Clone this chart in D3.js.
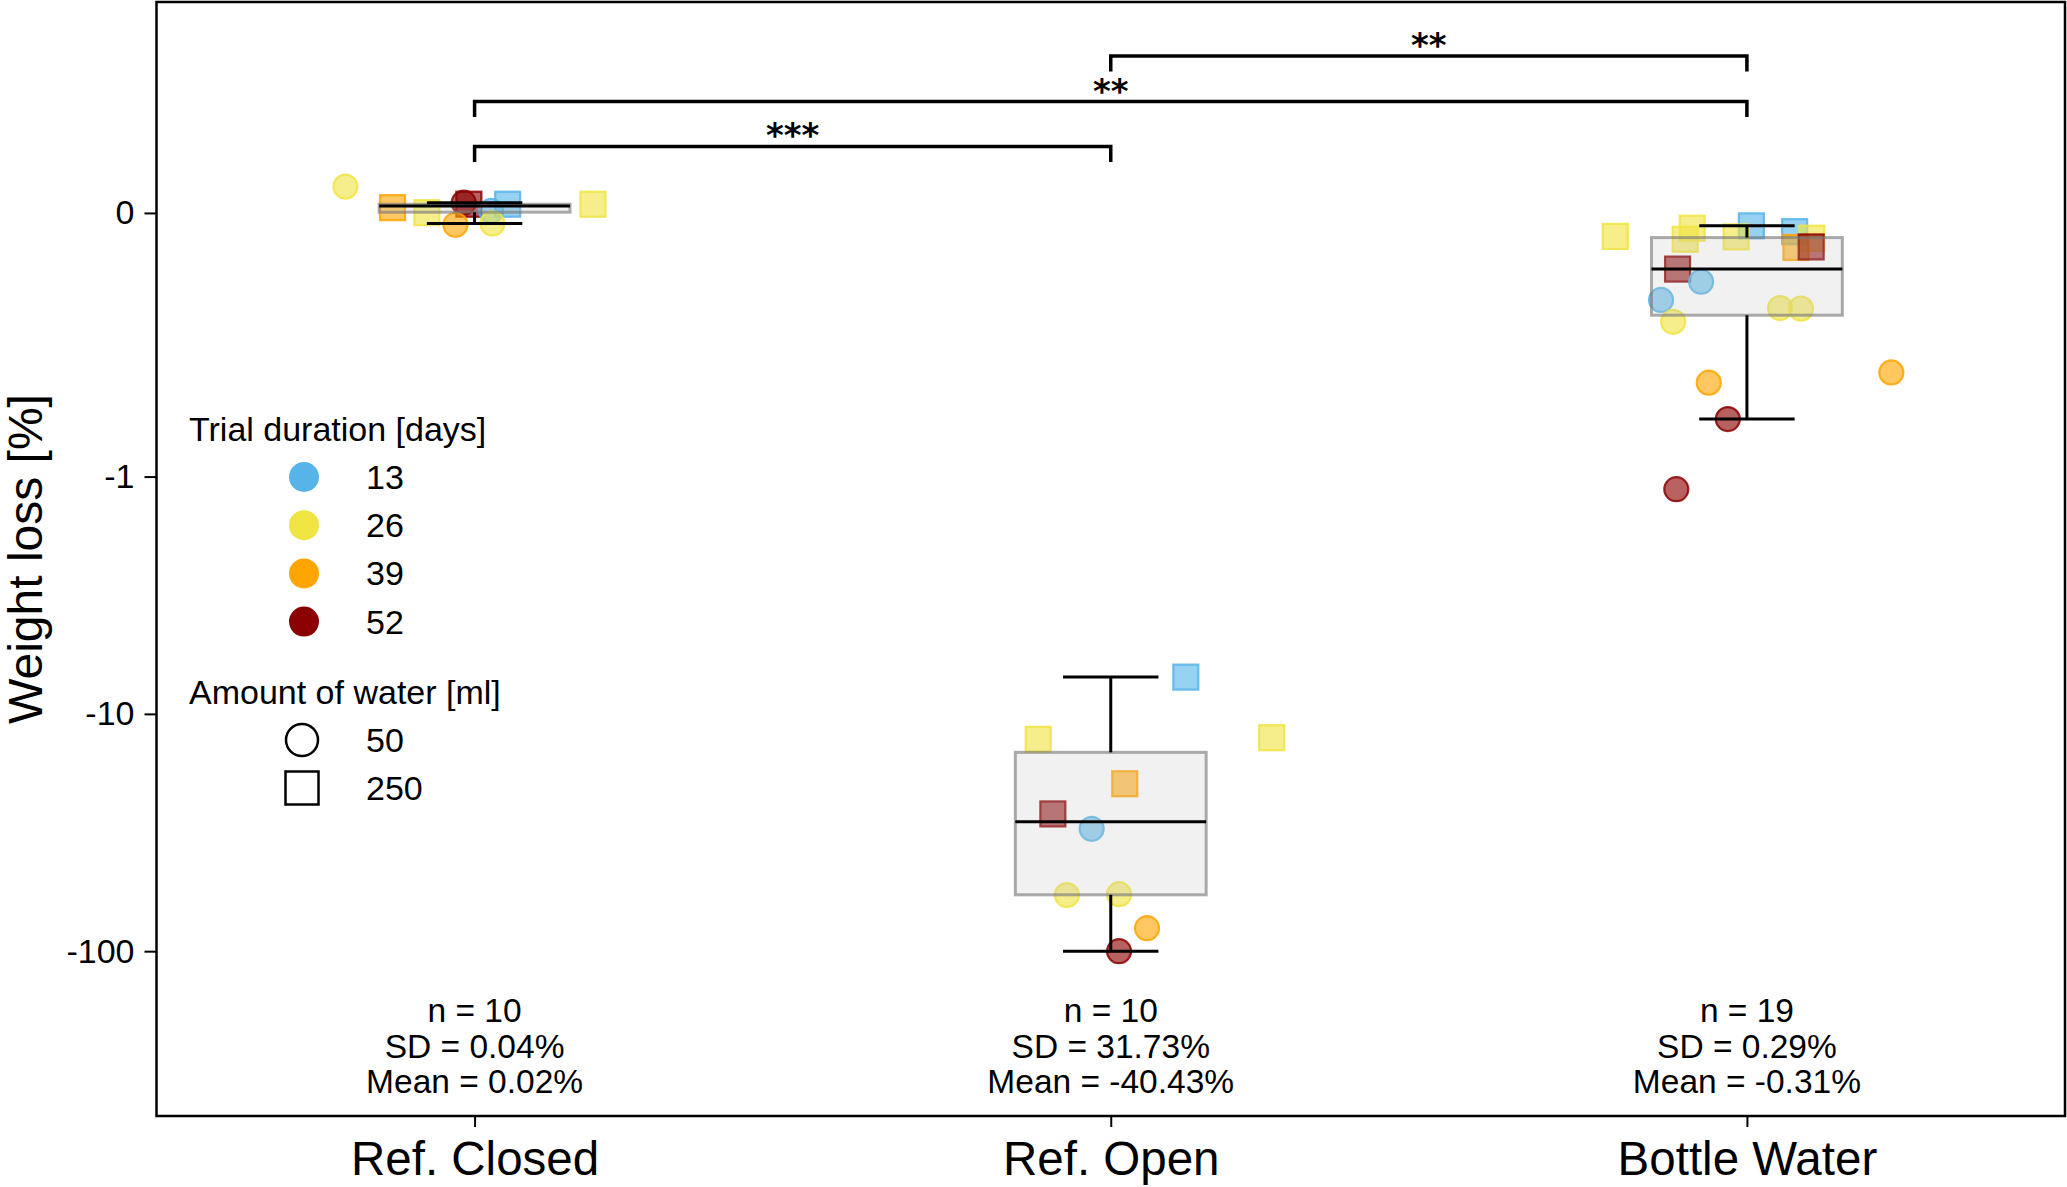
<!DOCTYPE html>
<html>
<head>
<meta charset="utf-8">
<script src="https://cdn.jsdelivr.net/npm/d3@7"></script>
<style>
  body { margin: 0; background: #fff; }
  text { font-family: "Liberation Sans", Arial, sans-serif; fill: #000; }
</style>
</head>
<body>
<svg id="chart" width="2067" height="1187"></svg>
<script>
// groups on the x axis
const categories = ["Ref. Closed", "Ref. Open", "Bottle Water"];

// weight loss [%] per sample, trial duration [days], water [ml], strip jitter (category units)
const closedValues   = [0.10, 0.020, 0.001, 0.039, 0.033, 0.008, 0.033, -0.045, -0.040, 0.033];
const closedDuration = [26, 39, 26, 52, 52, 13, 13, 39, 26, 26];
const closedWater    = [50, 250, 250, 50, 250, 50, 250, 50, 50, 250];
const closedJitter   = [-0.203, -0.129, -0.075, -0.017, -0.009, 0.026, 0.052, -0.030, 0.028, 0.186];

const openValues   = [-7.0, -12.8, -12.6, -19.7, -26.4, -30.5, -58, -57.5, -80, -100];
const openDuration = [13, 26, 26, 39, 52, 13, 26, 26, 39, 52];
const openWater    = [250, 250, 250, 250, 250, 50, 50, 50, 50, 50];
const openJitter   = [0.118, -0.114, 0.253, 0.022, -0.091, -0.030, -0.069, 0.013, 0.057, 0.013];

const bottleValues   = [-0.089, -0.058, -0.100, -0.049, -0.091, -0.071, -0.096, -0.131, -0.129, -0.213,
                        -0.261, -0.330, -0.413, -0.361, -0.363, -0.644, -0.605, -0.782, -1.13];
const bottleDuration = [26, 26, 26, 13, 26, 13, 26, 39, 52, 52, 13, 13, 26, 26, 26, 39, 39, 52, 52];
const bottleWater    = [250, 250, 250, 250, 250, 250, 250, 250, 250, 250, 50, 50, 50, 50, 50, 50, 50, 50, 50];
const bottleJitter   = [-0.207, -0.086, -0.097, 0.007, -0.017, 0.075, 0.102, 0.077, 0.101, -0.109,
                        -0.072, -0.135, -0.116, 0.052, 0.085, -0.060, 0.227, -0.030, -0.111];

// reported statistics under each group
const sdValues   = [0.04, 31.73, 0.29];
const meanValues = [0.02, -40.43, -0.31];

// significance brackets: [from, to, label, height in data units]
const sigPairs = [[0, 1, "***", 0.252], [0, 2, "**", 0.4225], [1, 2, "**", 0.595]];

const yTicks = [0, -1, -10, -100];
const durations = [13, 26, 39, 52];
const durationColors = ["#56B4E9", "#F0E442", "#FFA500", "#8B0000"];
const waterAmounts = [50, 250];

// matplotlib-style symlog (linthresh 1, linscale 1, base 10)
function symlog(v) {
  const a = Math.abs(v), lin = 1 / (1 - 1 / 10);
  return Math.sign(v) * (a <= 1 ? a * lin : lin + Math.log10(a));
}

const groups = [
  {values: closedValues, duration: closedDuration, water: closedWater, jitter: closedJitter},
  {values: openValues, duration: openDuration, water: openWater, jitter: openJitter},
  {values: bottleValues, duration: bottleDuration, water: bottleWater, jitter: bottleJitter}
];

const plotLeft = 156.5, plotRight = 2065, plotTop = 2, plotBottom = 1116;
const svg = d3.select("#chart");

const x = d3.scalePoint().domain(categories).range([plotLeft, plotRight]).padding(0.5);
const step = x.step();
const yT = d3.scaleLinear().domain([symlog(-495), symlog(0.8)]).range([plotBottom, plotTop]);
const y = v => yT(symlog(v));
const color = d3.scaleOrdinal().domain(durations).range(durationColors);

// points
const pts = svg.append("g");
groups.forEach((g, gi) => {
  g.values.forEach((v, i) => {
    const cx = x(categories[gi]) + g.jitter[i] * step, cy = y(v);
    const c = color(g.duration[i]);
    let m;
    if (g.water[i] === 50) {
      m = pts.append("circle").attr("cx", cx).attr("cy", cy).attr("r", 12);
    } else {
      m = pts.append("rect").attr("x", cx - 12.5).attr("y", cy - 12.5).attr("width", 25).attr("height", 25);
    }
    m.attr("fill", c).attr("fill-opacity", 0.62)
      .attr("stroke", c).attr("stroke-opacity", 0.85).attr("stroke-width", 2.2);
  });
});

// boxes (matplotlib quantiles, 1.5 IQR whiskers)
const boxW = 0.3 * step, capW = 0.15 * step;
groups.forEach((g, gi) => {
  const s = g.values.slice().sort(d3.ascending);
  const q1 = d3.quantileSorted(s, 0.25), med = d3.quantileSorted(s, 0.5), q3 = d3.quantileSorted(s, 0.75);
  const iqr = q3 - q1;
  const lo = d3.min(s.filter(v => v >= q1 - 1.5 * iqr));
  const hi = d3.max(s.filter(v => v <= q3 + 1.5 * iqr));
  const cx = x(categories[gi]);
  const b = svg.append("g");
  b.append("rect").attr("x", cx - boxW / 2).attr("y", y(q3))
    .attr("width", boxW).attr("height", y(q1) - y(q3))
    .attr("fill", "rgba(190,190,190,0.22)").attr("stroke", "rgba(120,120,120,0.62)").attr("stroke-width", 3);
  const line = (x1, y1, x2, y2) => b.append("line").attr("x1", x1).attr("y1", y1).attr("x2", x2).attr("y2", y2)
    .attr("stroke", "#000").attr("stroke-width", 3);
  line(cx, y(q3), cx, y(hi));
  line(cx, y(q1), cx, y(lo));
  line(cx - capW / 2, y(hi), cx + capW / 2, y(hi));
  line(cx - capW / 2, y(lo), cx + capW / 2, y(lo));
  line(cx - boxW / 2, y(med), cx + boxW / 2, y(med));
});

// frame
svg.append("rect").attr("x", plotLeft).attr("y", plotTop)
  .attr("width", plotRight - plotLeft).attr("height", plotBottom - plotTop)
  .attr("fill", "none").attr("stroke", "#000").attr("stroke-width", 2.5);

// y axis
const yAxis = svg.append("g").attr("transform", `translate(${plotLeft},0)`)
  .call(d3.axisLeft(yT).tickValues(yTicks.map(symlog)).tickFormat((d, i) => yTicks[i]).tickSize(12).tickPadding(10));
yAxis.select(".domain").remove();
yAxis.selectAll(".tick line").attr("stroke", "#000").attr("stroke-width", 2);
yAxis.selectAll(".tick text").style("font-size", "34px").style("font-family", "'Liberation Sans', Arial, sans-serif");

svg.append("text").attr("transform", `translate(42,${(plotTop + plotBottom) / 2}) rotate(-90)`)
  .attr("text-anchor", "middle").style("font-size", "48px").text("Weight loss [%]");

// x axis
const xAxis = svg.append("g").attr("transform", `translate(0,${plotBottom})`)
  .call(d3.axisBottom(x).tickSize(11).tickPadding(20));
xAxis.select(".domain").remove();
xAxis.selectAll(".tick line").attr("stroke", "#000").attr("stroke-width", 2);
xAxis.selectAll(".tick text").style("font-size", "47.5px").style("font-family", "'Liberation Sans', Arial, sans-serif")
  .attr("dy", null).attr("y", 59);

// stats under each group
categories.forEach((c, i) => {
  const lines = [`n = ${groups[i].values.length}`, `SD = ${sdValues[i].toFixed(2)}%`, `Mean = ${meanValues[i].toFixed(2)}%`];
  svg.append("text").attr("x", x(c)).attr("text-anchor", "middle").style("font-size", "33.5px")
    .selectAll("tspan").data(lines).join("tspan")
    .attr("x", x(c)).attr("y", (d, j) => 1022 + j * 35.5).text(d => d);
});

// significance brackets
sigPairs.forEach(([a, b, label, h]) => {
  const x1 = x(categories[a]), x2 = x(categories[b]), yy = y(h);
  svg.append("path").attr("d", `M${x1},${yy + 15.5}V${yy}H${x2}V${yy + 15.5}`)
    .attr("fill", "none").attr("stroke", "#000").attr("stroke-width", 3.5);
  svg.append("text").attr("x", (x1 + x2) / 2).attr("y", yy + 1).attr("text-anchor", "middle")
    .style("font-family", "'DejaVu Sans', sans-serif").style("font-weight", "bold")
    .style("font-size", "34px").text(label);
});

// legend
const lg = svg.append("g");
lg.append("text").attr("x", 189).attr("y", 441).style("font-size", "34px").text("Trial duration [days]");
durations.forEach((d, i) => {
  const cy = 477 + i * 48.2;
  lg.append("circle").attr("cx", 304).attr("cy", cy).attr("r", 15).attr("fill", color(d));
  lg.append("text").attr("x", 366).attr("y", cy + 12).style("font-size", "34px").text(d);
});
lg.append("text").attr("x", 189).attr("y", 704).style("font-size", "34px").text("Amount of water [ml]");
waterAmounts.forEach((w, i) => {
  const cy = 740 + i * 48;
  let m;
  if (w === 50) {
    m = lg.append("circle").attr("cx", 302).attr("cy", cy).attr("r", 16);
  } else {
    m = lg.append("rect").attr("x", 302 - 16.5).attr("y", cy - 16.5).attr("width", 33).attr("height", 33);
  }
  m.attr("fill", "none").attr("stroke", "#000").attr("stroke-width", 2.5);
  lg.append("text").attr("x", 366).attr("y", cy + 12).style("font-size", "34px").text(w);
});
</script>
</body>
</html>
